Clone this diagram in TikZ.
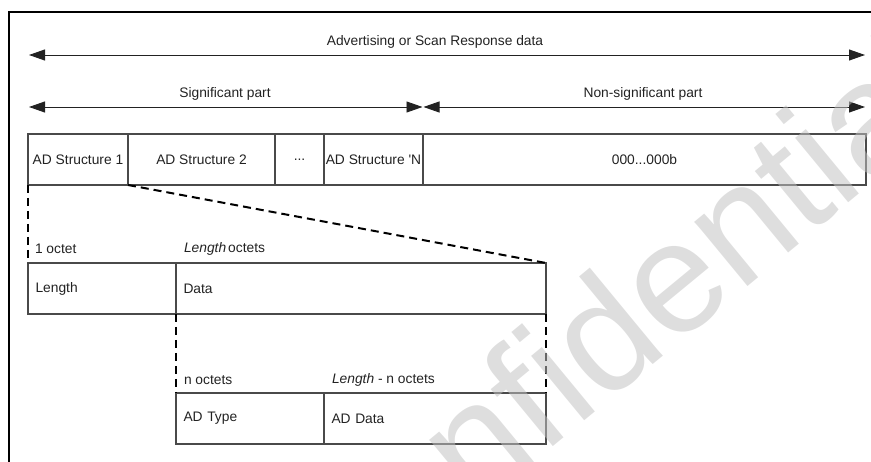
\documentclass[tikz,border=0pt]{standalone}
\usepackage{fontspec}
\setmainfont{Liberation Sans}
\usetikzlibrary{arrows.meta}
\definecolor{txt}{HTML}{222222}
\definecolor{boxc}{HTML}{4a4a4a}
\definecolor{wm}{HTML}{C1C1C1}
\begin{document}
\begin{tikzpicture}[x=1pt,y=-1pt,
  every node/.style={font=\fontsize{13.8}{16}\selectfont, text=txt, inner sep=0pt, outer sep=0pt},
  cell/.style={draw=boxc, line width=1.2pt, minimum height=51pt, anchor=north west},
  lcell/.style={cell, inner xsep=7.5pt, align=left},
  lbl/.style={anchor=west},
  dimarrow/.style={draw=txt, line width=0.9pt, {Triangle[length=16pt,width=11pt]}-{Triangle[length=16pt,width=11pt]}},
  dashconn/.style={draw=black, line width=2pt, dash pattern=on 8pt off 5pt},
  frame/.style={draw=black, line width=2.6pt}
]
\useasboundingbox (0,0) rectangle (871,462);
\clip (0,0) rectangle (871,462);

% outer frame
\coordinate (fb) at (9,470);
\coordinate (fc) at (9,12);
\coordinate (fr) at (880,12);
\draw[frame] (fb) -- (fc) -- (fr);

% dimension arrows
\coordinate (a1l) at (29,55);
\coordinate (a1r) at (865,55);
\draw[dimarrow] (a1l) -- (a1r);
\node (t1) at (435,42) {Advertising or Scan Response data};

\coordinate (a2l) at (29,107);
\coordinate (a2m1) at (422.5,107);
\coordinate (a2m2) at (423.5,107);
\coordinate (a2r) at (865,107);
\draw[dimarrow] (a2l) -- (a2m1);
\draw[dimarrow] (a2m2) -- (a2r);
\node (t2) at (225,94) {Significant part};
\node (t3) at (643,94) {Non-significant part};

% row 1
\node[cell, minimum width=100pt] (s1) at (28,134) {AD Structure 1};
\node[cell, minimum width=147pt] (s2) at (128,134) {AD Structure 2};
\node[cell, minimum width=49pt] (dots) at (275,134) {...};
\node[cell, minimum width=99pt] (sN) at (324,134) {AD Structure \textquotesingle N};
\node[cell, minimum width=443pt] (zero) at (423,134) {000...000b};

% row 2
\node[lbl] (l1) at (35,249) {1 octet};
\node[lbl] (l2) at (184,249) {\textit{Length}\hspace{2pt}octets};
\node[lcell, minimum width=148pt, text width=133pt] (len) at (28,263) {Length};
\node[lcell, minimum width=370pt, text width=355pt] (data) at (176,263) {Data};

% row 3
\node[lbl] (l3) at (184,380) {n octets};
\node[lbl] (l4) at (332,380) {\textit{Length} - n octets};
\node[lcell, minimum width=148pt, text width=133pt] (type) at (176,393) {AD Type};
\node[lcell, minimum width=222pt, text width=207pt] (addata) at (324,393) {AD Data};

% dashed expansion lines
\draw[dashconn] (s1.south west) -- (len.north west);
\draw[dashconn] (s1.south east) -- (data.north east);
\draw[dashconn] (data.south west) -- (type.north west);
\draw[dashconn] (data.south east) -- (addata.north east);

% watermark
\node[rotate=39.5, font=\fontsize{158}{158}\selectfont, text=wm, text opacity=0.53] (wmk) at (605,331) {Confidential};
\end{tikzpicture}
\end{document}
